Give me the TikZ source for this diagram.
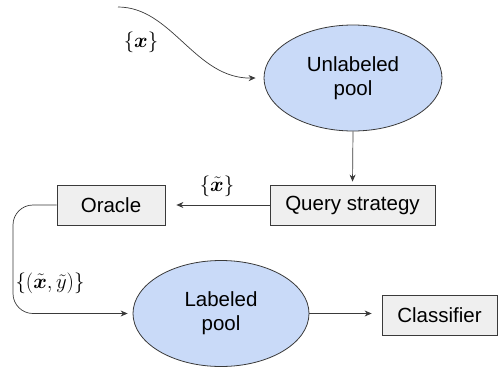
\documentclass[tikz,border=0pt]{standalone}
\usepackage{fontspec}
\usepackage{amsmath}
\usepackage{bm}
\setmainfont{Liberation Sans}
\usetikzlibrary{shapes.geometric,arrows.meta}
\definecolor{poolfill}{HTML}{C9DAF8}
\definecolor{boxfill}{HTML}{EFEFEF}
\definecolor{edge}{HTML}{3A3A3A}
\begin{document}
\begin{tikzpicture}[x=1pt,y=-1pt,
  pool/.style={ellipse,draw=edge,fill=poolfill,line width=0.8pt,inner sep=0pt,align=center,
    font=\fontsize{20.5}{24}\selectfont},
  box/.style={rectangle,draw=edge,fill=boxfill,line width=0.8pt,inner sep=0pt,
    font=\fontsize{20.5}{24}\selectfont},
  conn/.style={draw=edge,line width=0.7pt,-{Stealth[length=7pt,width=6pt]}},
  mlabel/.style={font=\fontsize{21}{25}\selectfont,inner sep=0pt}]
\useasboundingbox (0,0) rectangle (498,367);
\node[pool,minimum width=178pt,minimum height=106pt] (U) at (353,78) {Unlabeled\\pool};
\node[box,minimum width=165pt,minimum height=40pt] (Q) at (352.5,205) {Query strategy};
\node[box,minimum width=108pt,minimum height=40pt] (O) at (111,205) {Oracle};
\node[pool,minimum width=176pt,minimum height=106pt] (L) at (221,313.5) {Labeled\\pool};
\node[box,minimum width=115pt,minimum height=40pt] (C) at (439.5,315.5) {Classifier};
\coordinate (src) at (118,7);
\node[mlabel] (lx) at (141,42) {$\{\bm{x}\}$};
\node[mlabel] (lxt) at (217,186) {$\{\tilde{\bm{x}}\}$};
\node[mlabel] (lxy) at (50,283) {$\{(\tilde{\bm{x}},\tilde{y})\}$};
\draw[conn] (src) .. controls (172,7) and (195,79) .. ([xshift=-8pt]U.west);
\draw[conn,shorten >=3pt] (U.south) -- (Q.north);
\draw[conn,shorten >=11pt] (Q.west) -- (O.east);
\draw[conn,rounded corners=20pt,shorten >=5pt] (O.west) -- (13,205) -- (13,313.5) -- (L.west);
\draw[conn,shorten >=10pt] (L.east) -- (L.east -| C.west);
\end{tikzpicture}
\end{document}
